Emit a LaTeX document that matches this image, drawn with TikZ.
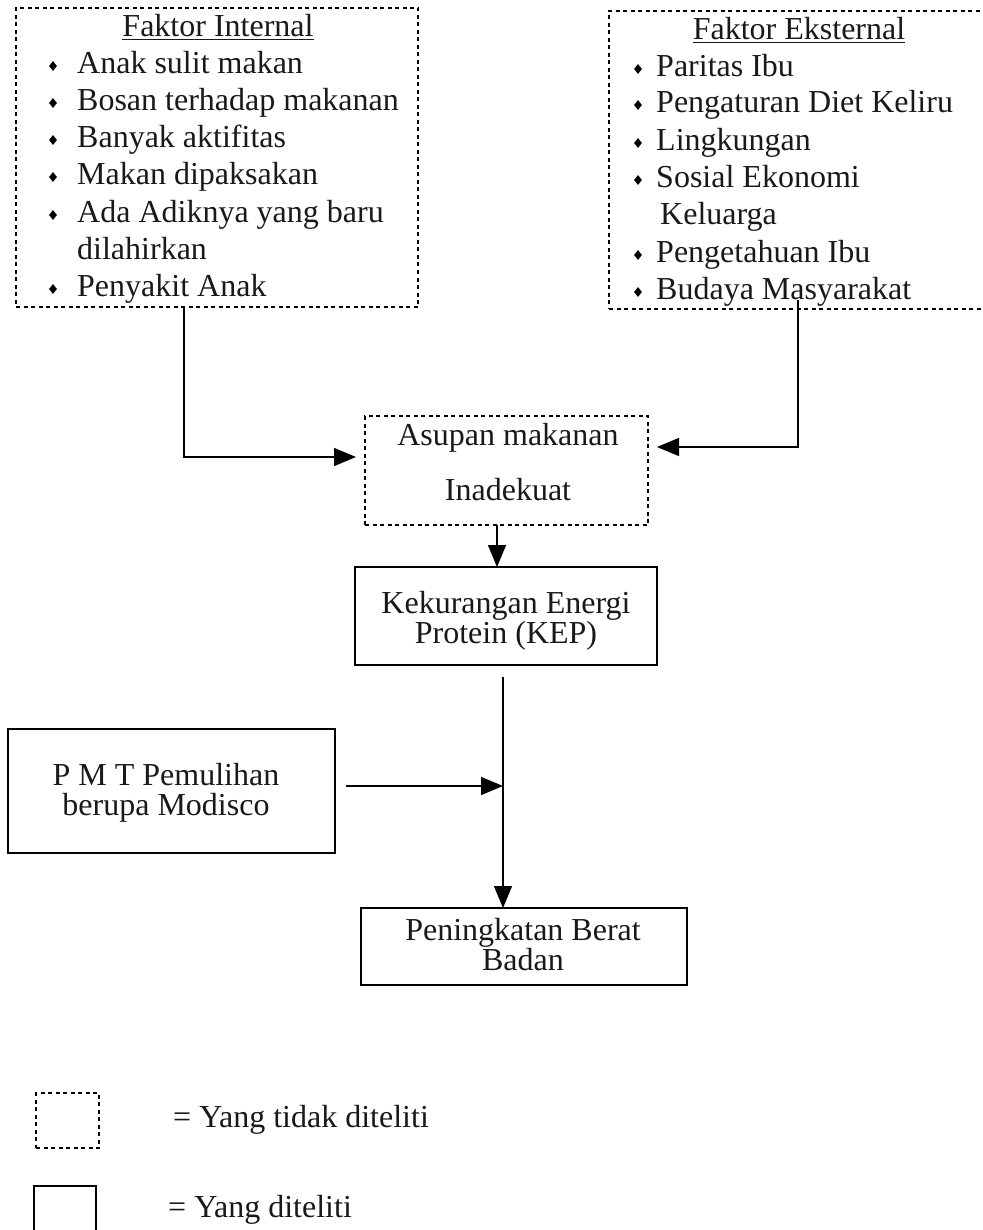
\documentclass[tikz,border=0pt]{standalone}
\usepackage{fontspec}
\setmainfont{Liberation Serif}
\usetikzlibrary{arrows.meta,shapes.geometric}
\begin{document}
\begin{tikzpicture}[x=1pt,y=-1pt,
  every node/.style={font=\fontsize{32}{37}\selectfont, text=black!90},
  dbox/.style={draw, line width=1.1pt, dash pattern=on 4pt off 3.5pt, inner sep=0pt, outer sep=0pt},
  sbox/.style={draw, line width=1.4pt, inner sep=0pt, outer sep=0pt},
  item/.style={anchor=base west, inner sep=0pt},
  ctext/.style={anchor=base, inner sep=0pt},
  bul/.style={diamond, fill=black, draw=none, inner sep=0pt, minimum width=8pt, minimum height=10pt},
  conn/.style={line width=1.4pt},
  arr/.style={line width=1.4pt, -{Triangle[length=22pt,width=18pt]}}
]
\useasboundingbox (0,0) rectangle (982,1230);
\clip (0,0) rectangle (982,1230);

% ---------- Faktor Internal ----------
\node[dbox, minimum width=402pt, minimum height=299pt] (int) at (217,157.5) {};
\node[ctext] (intT) at (218,37) {\underline{Faktor Internal}};
\foreach \y/\t in {74/Anak sulit makan, 111/Bosan terhadap makanan, 148/Banyak aktifitas, 185/Makan dipaksakan, 223/Ada Adiknya yang baru, 297/Penyakit Anak}{
  \node[bul] at (53,\y-8) {};
  \node[item] at (77,\y) {\t};
}
\node[item] (intL) at (77,260) {dilahirkan};

% ---------- Faktor Eksternal ----------
\node[dbox, minimum width=400pt, minimum height=298pt] (ext) at (809,160) {};
\node[ctext] (extT) at (799,40) {\underline{Faktor Eksternal}};
\foreach \y/\t in {77/Paritas Ibu, 113/Pengaturan Diet Keliru, 151/Lingkungan, 188/Sosial Ekonomi, 263/Pengetahuan Ibu, 300/Budaya Masyarakat}{
  \node[bul] at (638,\y-8) {};
  \node[item] at (656,\y) {\t};
}
\node[item] (extL) at (660,225) {Keluarga};

% ---------- Asupan makanan Inadekuat ----------
\node[dbox, minimum width=283pt, minimum height=109pt] (asu) at (506.5,470.5) {};
\node[ctext] at (508,445) {Asupan makanan};
\node[ctext] at (508,500) {Inadekuat};

% ---------- KEP ----------
\node[sbox, minimum width=302pt, minimum height=98pt] (kep) at (506,616) {};
\node[ctext] at (506,613) {Kekurangan Energi};
\node[ctext] at (506,643) {Protein (KEP)};

% ---------- PMT ----------
\node[sbox, minimum width=327pt, minimum height=124pt] (pmt) at (171.5,791) {};
\node[ctext] at (166,785) {P M T Pemulihan};
\node[ctext] at (166,815) {berupa Modisco};

% ---------- Peningkatan Berat Badan ----------
\node[sbox, minimum width=326pt, minimum height=77pt] (pbb) at (524,946.5) {};
\node[ctext] at (523,940) {Peningkatan Berat};
\node[ctext] at (523,970) {Badan};

% ---------- Connectors ----------
\coordinate (lj) at (184,457);
\coordinate (lt) at (356,457);
\draw[arr] (int.south -| lj) -- (lj) -- (lt);

\coordinate (rs) at (798,300);
\coordinate (rj) at (798,447);
\coordinate (rt) at (657,447);
\draw[arr] (rs) -- (rj) -- (rt);

\coordinate (ak) at (497,0);
\draw[arr] (asu.south -| ak) -- (kep.north -| ak);

\coordinate (vs) at (503,677);
\coordinate (vm) at (503,786);
\coordinate (ps) at (346,786);
\draw[conn] (vs) -- (vm);
\draw[arr] (vm) -- (pbb.north -| vm);
\draw[arr] (ps) -- (vm);

% ---------- Legend ----------
\node[dbox, minimum width=63pt, minimum height=55pt] (lg1) at (67.5,1120.5) {};
\node[item] at (173,1127) {= Yang tidak diteliti};
\node[sbox, minimum width=62pt, minimum height=60pt] (lg2) at (65,1216) {};
\node[item] at (168,1217) {= Yang diteliti};
\end{tikzpicture}
\end{document}
